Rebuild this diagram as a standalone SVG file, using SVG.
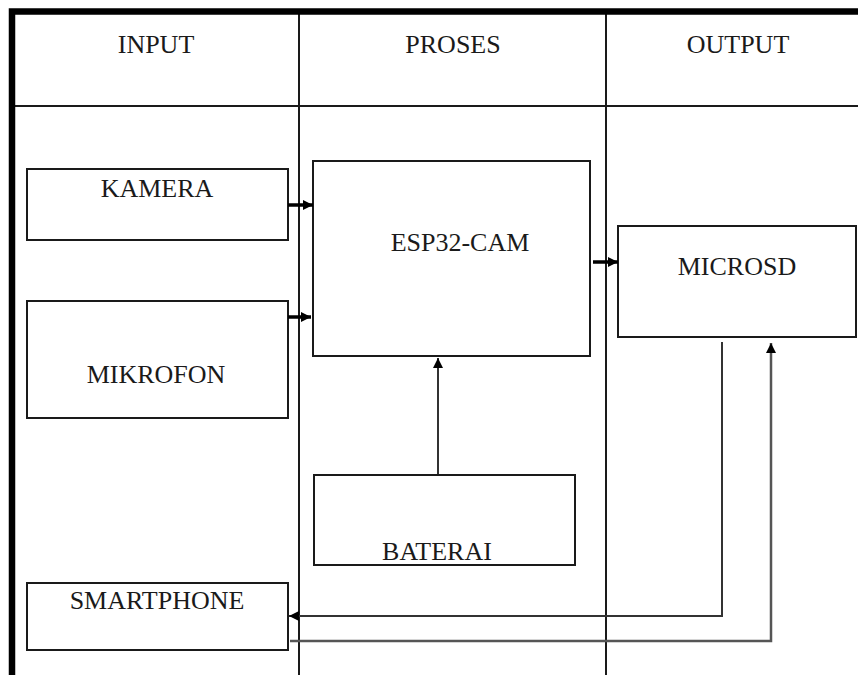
<svg xmlns="http://www.w3.org/2000/svg" width="858" height="675" viewBox="0 0 858 675">
<style>
.box{fill:#fff;stroke:#1a1a1a;stroke-width:2}
.lbl{font-family:"Liberation Serif","Times New Roman",serif;font-size:26px;fill:#1a1a1a;text-anchor:middle}
.grid{stroke:#1a1a1a;stroke-width:2;fill:none}
.frame{stroke:#000;stroke-width:6.5;fill:none}
.thick{stroke:#000;stroke-width:3.5;fill:none}
.thin{stroke:#333;stroke-width:2;fill:none}
.gray{stroke:#555;stroke-width:2.5;fill:none}
</style>
<defs>
<marker id="ah" viewBox="0 0 10 10" refX="10" refY="5" markerWidth="11" markerHeight="10" markerUnits="userSpaceOnUse" orient="auto">
<path d="M0,0 L10,5 L0,10 z" fill="#000"/>
</marker>
</defs>
<rect width="858" height="675" fill="#fff"/>
<g id="table">
<line class="grid" x1="12" y1="106" x2="858" y2="106"/>
<line class="grid" x1="299" y1="12" x2="299" y2="675"/>
<line class="grid" x1="606" y1="12" x2="606" y2="675"/>
<path class="frame" d="M12,675 L12,11.5 L858,11.5"/>
<text class="lbl" x="156" y="53">INPUT</text>
<text class="lbl" x="453" y="53">PROSES</text>
<text class="lbl" x="738" y="53">OUTPUT</text>
</g>
<g id="kamera"><rect class="box" x="27" y="169" width="261" height="71"/><text class="lbl" x="157" y="197">KAMERA</text></g>
<g id="mikrofon"><rect class="box" x="27" y="301" width="261" height="117"/><text class="lbl" x="156" y="383">MIKROFON</text></g>
<g id="esp32"><rect class="box" x="313" y="161" width="277" height="195"/><text class="lbl" x="460" y="251">ESP32-CAM</text></g>
<g id="baterai"><rect class="box" x="314" y="475" width="261" height="90"/><text class="lbl" x="437" y="560">BATERAI</text></g>
<g id="microsd"><rect class="box" x="618" y="226" width="238" height="111"/><text class="lbl" x="737" y="275">MICROSD</text></g>
<g id="smartphone"><rect class="box" x="27" y="583" width="261" height="67"/><text class="lbl" x="157" y="609">SMARTPHONE</text></g>
<g id="connectors">
<line class="thick" x1="288" y1="205" x2="313" y2="205" marker-end="url(#ah)"/>
<line class="thick" x1="288" y1="317" x2="311" y2="317" marker-end="url(#ah)"/>
<line class="thick" x1="593" y1="262" x2="618" y2="262" marker-end="url(#ah)"/>
<line class="thin" x1="438" y1="474" x2="438" y2="358" marker-end="url(#ah)"/>
<polyline class="thin" points="722,342 722,616 289,616" marker-end="url(#ah)"/>
<polyline class="gray" points="290,641 771,641 771,343" marker-end="url(#ah)"/>
</g>
</svg>
